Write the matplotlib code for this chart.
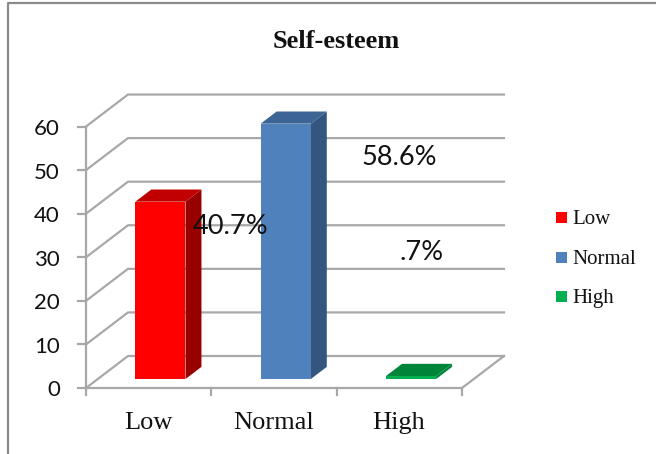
import matplotlib.pyplot as plt
from matplotlib.patches import Polygon, Rectangle

categories = ["Low", "Normal", "High"]
values = [40.7, 58.6, 0.7]
value_labels = ["40.7%", "58.6%", ".7%"]
y_ticks = [0, 10, 20, 30, 40, 50, 60]
front_colors = ["#ff0000", "#4f81bd", "#00b050"]
top_colors = ["#c00000", "#3c6494", "#00843a"]
side_colors = ["#980000", "#34557f", "#00843a"]

W, H = 656, 454
# pixel scale of the chart: x category = 125.33 px, y unit = 4.358 px
XS, YS = 125.33, 4.358
X0, Y0 = 86, 388
DX, DY = 42 / XS, 32 / YS  # wall depth in data units
GRID = "#a8a8a8"
SERIF = "Liberation Serif"
SANS = "Lato"
INK = "#111111"


def px(x, y):
    # pixel position in the picture -> data coordinates, only for text/frame
    return (x - X0) / XS, (Y0 - y) / YS


fig = plt.figure(figsize=(W / 100, H / 100), dpi=100)
ax = fig.add_axes([0, 0, 1, 1])
ax.set_xlim(-X0 / XS, (W - X0) / XS)
ax.set_ylim((Y0 - H) / YS, Y0 / YS)
ax.axis("off")

# outer chart border, only left and top are inside the crop
bx, by = zip(px(8, 460), px(8, 3), px(660, 3))
ax.plot(bx, by, color="#8a8a8a", lw=1.6, zorder=1)

# walls
for t in y_ticks:
    ax.plot([0, DX, DX + 3], [t, t + DY, t + DY], color=GRID, lw=1.6, zorder=1)
    ax.plot([-8 / XS, 0], [t, t], color=GRID, lw=1.6, zorder=1)
ax.plot([0, 0], [0, 60], color=GRID, lw=1.6, zorder=1)
ax.plot([0, 3, 3 + DX], [0, 0, DY], color=GRID, lw=1.6, zorder=1)
for i in range(4):
    ax.plot([i, i], [0, -7 / YS], color=GRID, lw=1.6, zorder=1)

# 3d bars
bar_w = 0.4
for i, v in enumerate(values):
    left = i + 0.5 - bar_w / 2 + 0.28 * DX
    right = left + bar_w
    base = 0.28 * DY
    ddx, ddy = 0.38 * DX, 0.38 * DY
    ax.add_patch(Polygon([(right, base), (right + ddx, base + ddy),
                          (right + ddx, base + ddy + v), (right, base + v)],
                         fc=side_colors[i], ec="none", zorder=3))
    ax.add_patch(Polygon([(left, base + v), (right, base + v),
                          (right + ddx, base + v + ddy), (left + ddx, base + v + ddy)],
                         fc=top_colors[i], ec="none", zorder=3))
    ax.add_patch(Rectangle((left, base), bar_w, v, fc=front_colors[i], ec="none", zorder=3))

# tick labels
for t in y_ticks:
    ax.text(-26 / XS, t - 8.5 / YS, str(t), ha="right", va="baseline", fontsize=16,
            family=SANS, color=INK, zorder=5)
for i, c in enumerate(categories):
    ax.text(*px(148 + i * 125.5, 429), c, ha="center", va="baseline", fontsize=19,
            family=SERIF, color=INK, zorder=5)

# value labels typed over the chart
label_pos = [(231, 234), (399, 165), (422, 260)]
for (lx, ly), s in zip(label_pos, value_labels):
    ax.text(*px(lx, ly), s, ha="center", va="baseline", fontsize=19.5,
            family=SANS, color=INK, zorder=6)

ax.text(*px(336, 48), "Self-esteem", ha="center", va="baseline", fontsize=19,
        family=SERIF, weight="bold", color=INK, zorder=5)

# legend
for i, c in enumerate(categories):
    ly = 223 + i * 39.5
    lx0, ly0 = px(556, ly)
    ax.add_patch(Rectangle((lx0, ly0), 11 / XS, 11 / YS, fc=front_colors[i], ec="none", zorder=5))
    ax.text(*px(572, ly + 1), c, ha="left", va="baseline", fontsize=15,
            family=SERIF, color=INK, zorder=5)

fig.savefig("out.png", dpi=100)
